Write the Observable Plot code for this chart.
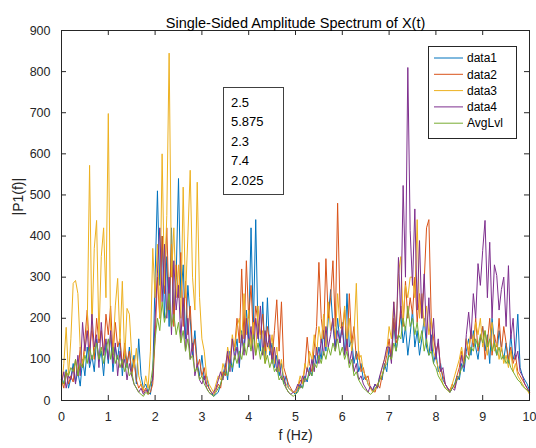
<!DOCTYPE html>
<html>
<head>
<meta charset="utf-8">
<script src="https://cdn.jsdelivr.net/npm/d3@7"></script>
<script src="https://cdn.jsdelivr.net/npm/@observablehq/plot@0.6"></script>
<style>
  html, body { margin: 0; padding: 0; background: #ffffff; }
  #chart { width: 536px; height: 448px; }
</style>
</head>
<body>
<div id="chart"></div>
<script>
// ---- data (0.05 Hz steps) ----
const titleText = "Single-Sided Amplitude Spectrum of X(t)";
const xLabel = "f (Hz)";
const yLabel = "|P1(f)|";
const xTicks = [0, 1, 2, 3, 4, 5, 6, 7, 8, 9, 10];
const yTicks = [0, 100, 200, 300, 400, 500, 600, 700, 800, 900];
const seriesNames = ["data1", "data2", "data3", "data4", "AvgLvl"];
const seriesColors = ["#0072BD", "#D95319", "#EDB120", "#7E2F8E", "#77AC30"];
const annotationLines = ["2.5", "5.875", "2.3", "7.4", "2.025"];
const freqStep = 0.05;

const data1 = [
  60, 40, 75, 30, 55, 90, 45, 70, 35, 100,
  60, 130, 80, 110, 70, 150, 95, 120, 60, 140,
  90, 160, 70, 130, 100, 150, 60, 120, 80, 130,
  70, 110, 40, 150, 60, 30, 40, 20, 15, 60,
  300, 510, 280, 400, 200, 350, 180, 420, 200, 300,
  540, 250, 330, 150, 280, 200, 110, 170, 90, 60,
  110, 50, 60, 30, 20, 10, 15, 20, 40, 60,
  90, 50, 120, 70, 110, 150, 80, 170, 120, 220,
  150, 420, 180, 440, 160, 120, 240, 100, 250, 110,
  140, 80, 110, 60, 90, 40, 60, 30, 25, 20,
  15, 25, 40, 30, 60, 45, 80, 60, 110, 90,
  130, 100, 170, 120, 200, 270, 180, 130, 200, 140,
  190, 110, 260, 130, 150, 90, 120, 70, 90, 50,
  60, 40, 30, 25, 40, 30, 60, 50, 90, 70,
  130, 100, 190, 120, 160, 210, 140, 180, 110, 160,
  220, 130, 170, 110, 150, 200, 130, 110, 160, 90,
  120, 70, 90, 50, 40, 30, 20, 30, 40, 60,
  50, 90, 70, 120, 150, 110, 170, 130, 100, 150,
  180, 120, 160, 90, 200, 140, 110, 170, 130, 100,
  140, 90, 160, 100, 120, 210, 80, 60, 50, 40,
  25
];
const data2 = [
  50, 30, 70, 40, 60, 45, 100, 60, 130, 80,
  150, 220, 120, 180, 100, 200, 140, 170, 110, 210,
  160, 230, 110, 190, 130, 150, 80, 140, 90, 120,
  60, 100, 50, 30, 40, 20, 30, 15, 20, 40,
  150, 300, 200, 400, 260, 420, 220, 380, 180, 330,
  250, 360, 180, 290, 160, 230, 120, 150, 80, 100,
  60, 80, 40, 30, 20, 15, 25, 40, 30, 70,
  60, 110, 90, 150, 130, 200, 140, 320, 150, 340,
  200, 280, 150, 230, 190, 160, 210, 120, 180, 140,
  100, 170, 245, 120, 240, 80, 60, 40, 30, 20,
  20, 30, 50, 40, 80, 154, 90, 70, 130, 180,
  336, 200, 150, 345, 200, 250, 340, 180, 480, 230,
  160, 220, 120, 260, 140, 180, 100, 120, 70, 80,
  50, 60, 30, 25, 20, 40, 30, 60, 80, 110,
  150, 100, 200, 140, 160, 230, 180, 290, 200, 250,
  210, 300, 190, 260, 200, 290, 420, 440, 200, 150,
  120, 140, 80, 60, 40, 30, 25, 40, 30, 60,
  80, 120, 90, 150, 110, 170, 130, 200, 120, 150,
  180, 100, 140, 200, 110, 160, 130, 200, 120, 180,
  140, 100, 130, 90, 110, 70, 60, 50, 40, 30,
  20
];
const data3 = [
  30, 90, 178, 60, 150, 285, 292, 260, 130, 90,
  120, 180, 572, 170, 370, 438, 150, 350, 420, 250,
  698, 150, 120, 230, 297, 140, 290, 100, 224, 210,
  110, 80, 127, 60, 40, 25, 60, 30, 120, 370,
  250, 380, 200, 600, 280, 450, 845, 300, 420, 250,
  330, 200, 519, 250, 400, 560, 300, 220, 531, 250,
  150, 120, 60, 40, 30, 20, 40, 60, 50, 90,
  70, 130, 100, 160, 120, 180, 200, 140, 260, 160,
  220, 130, 190, 110, 230, 150, 170, 90, 140, 120,
  160, 90, 130, 70, 100, 50, 40, 30, 25, 20,
  20, 35, 60, 40, 90, 70, 120, 100, 160, 110,
  180, 140, 210, 130, 240, 170, 200, 150, 260, 180,
  170, 230, 140, 200, 120, 160, 285, 100, 110, 70,
  60, 40, 30, 20, 25, 40, 50, 80, 100, 120,
  180, 150, 240, 170, 309, 350, 200, 280, 250, 300,
  300, 250, 440, 200, 260, 180, 230, 160, 200, 120,
  100, 80, 60, 40, 30, 25, 20, 40, 60, 80,
  100, 130, 90, 150, 120, 170, 140, 190, 160, 200,
  130, 170, 110, 150, 190, 120, 140, 100, 130, 90,
  110, 80, 120, 70, 90, 60, 50, 40, 30, 25,
  15
];
const data4 = [
  40, 70, 30, 60, 50, 80, 40, 110, 60, 190,
  120, 170, 90, 210, 130, 160, 80, 190, 110, 150,
  100, 170, 90, 140, 60, 120, 80, 100, 50, 90,
  60, 40, 30, 20, 30, 15, 25, 20, 40, 50,
  200, 310, 420, 240, 380, 200, 300, 160, 340, 220,
  280, 150, 250, 120, 200, 100, 140, 60, 90, 50,
  40, 60, 30, 20, 15, 20, 30, 50, 70, 50,
  80, 120, 70, 150, 100, 130, 90, 160, 110, 200,
  130, 180, 100, 200, 150, 230, 110, 170, 130, 160,
  90, 130, 70, 100, 50, 60, 30, 20, 15, 20,
  25, 40, 30, 60, 45, 80, 60, 100, 70, 130,
  90, 150, 110, 180, 130, 160, 200, 120, 170, 140,
  180, 110, 150, 90, 120, 70, 90, 50, 60, 40,
  30, 20, 35, 25, 40, 30, 60, 80, 100, 130,
  130, 90, 240, 150, 348, 200, 523, 300, 810, 414,
  280, 466, 220, 389, 200, 308, 150, 250, 120, 200,
  100, 150, 70, 80, 40, 30, 20, 30, 25, 50,
  60, 110, 80, 160, 215, 150, 260, 200, 333, 280,
  365, 438, 250, 385, 200, 330, 304, 220, 270, 300,
  180, 328, 150, 200, 100, 120, 70, 60, 40, 30,
  20
];
const avgLvl = [
  50, 40, 70, 60, 80, 70, 100, 60, 90, 80,
  110, 90, 130, 100, 120, 140, 100, 130, 90, 120,
  150, 100, 130, 90, 110, 80, 100, 70, 90, 60,
  70, 40, 30, 20, 15, 10, 20, 15, 40, 80,
  150, 200, 170, 240, 190, 220, 260, 180, 210, 160,
  190, 140, 170, 120, 150, 100, 110, 70, 80, 50,
  60, 40, 30, 20, 15, 10, 20, 30, 40, 60,
  70, 60, 90, 80, 110, 90, 120, 100, 140, 110,
  150, 120, 160, 110, 140, 100, 130, 90, 110, 80,
  100, 70, 80, 50, 60, 40, 30, 20, 15, 10,
  15, 20, 35, 30, 55, 50, 70, 60, 90, 80,
  110, 90, 120, 100, 130, 110, 140, 120, 150, 110,
  130, 100, 120, 80, 100, 60, 70, 50, 40, 30,
  25, 20, 15, 20, 30, 35, 50, 60, 80, 90,
  110, 100, 140, 120, 160, 150, 200, 170, 230, 180,
  200, 160, 190, 140, 170, 120, 150, 110, 120, 90,
  80, 60, 50, 40, 30, 25, 20, 30, 40, 50,
  60, 80, 90, 110, 100, 130, 120, 150, 130, 160,
  140, 170, 130, 150, 120, 140, 110, 130, 100, 110,
  90, 100, 80, 70, 60, 50, 45, 35, 30, 25,
  20
];

// ---- build table ----
const seriesValues = [data1, data2, data3, data4, avgLvl];
const rows = seriesNames.flatMap((name, k) =>
  seriesValues[k].map((v, i) => ({ f: +(i * freqStep).toFixed(3), p: v, s: name }))
);

const axisColor = "#262626";
const font = "'Liberation Sans', Arial, Helvetica, sans-serif";
const W = 536, H = 448, mL = 61, mR = 7, mT = 30, mB = 48;
const plotW = W - mL - mR, plotH = H - mT - mB, tickLen = 5;

const chart = Plot.plot({
  width: W,
  height: H,
  marginLeft: mL,
  marginRight: mR,
  marginTop: mT,
  marginBottom: mB,
  style: { fontFamily: font, fontSize: "12px", color: axisColor, background: "#ffffff", overflow: "visible" },
  x: { domain: [0, 10] },
  y: { domain: [0, 900] },
  color: { domain: seriesNames, range: seriesColors },
  marks: [
    Plot.line(rows, { x: "f", y: "p", z: "s", stroke: "s", strokeWidth: 1 }),
    Plot.frame({ stroke: axisColor, strokeWidth: 1 }),
    // inward tick marks on all four sides
    Plot.tickX(xTicks, { x: d => d, stroke: axisColor, insetTop: plotH - tickLen }),
    Plot.tickX(xTicks, { x: d => d, stroke: axisColor, insetBottom: plotH - tickLen }),
    Plot.tickY(yTicks, { y: d => d, stroke: axisColor, insetRight: plotW - tickLen }),
    Plot.tickY(yTicks, { y: d => d, stroke: axisColor, insetLeft: plotW - tickLen }),
    Plot.axisX({ anchor: "bottom", ticks: xTicks, tickSize: 0, tickPadding: 12, label: null, fontSize: 12.5 }),
    Plot.axisY({ anchor: "left", ticks: yTicks, tickSize: 0, tickPadding: 11, label: null, fontSize: 12.5 }),
    Plot.text([titleText], { frameAnchor: "top", dy: -13, fontSize: 14.5, fill: "#000" }),
    Plot.text([xLabel], { frameAnchor: "bottom", dy: 39, fontSize: 14, fill: axisColor }),
    Plot.text([yLabel], { frameAnchor: "left", dx: -43, rotate: -90, fontSize: 14, fill: axisColor })
  ]
});
document.getElementById("chart").appendChild(chart);

// ---- legend and annotation box drawn into the same SVG ----
const svg = d3.select(chart);
const leg = svg.append("g").attr("font-family", font).attr("font-size", 12).attr("text-anchor", "start");
leg.append("rect").attr("x", 428.5).attr("y", 46.5).attr("width", 88).attr("height", 92)
  .attr("fill", "#fff").attr("stroke", axisColor);
seriesNames.forEach((name, i) => {
  const y = 58 + i * 16.3;
  leg.append("line").attr("x1", 434).attr("x2", 463).attr("y1", y).attr("y2", y)
    .attr("stroke", seriesColors[i]).attr("stroke-width", 1);
  leg.append("text").attr("x", 467).attr("y", y).attr("dy", "0.35em").attr("fill", "#000").text(name);
});

const ann = svg.append("g").attr("font-family", font).attr("font-size", 13).attr("text-anchor", "start");
ann.append("rect").attr("x", 223.5).attr("y", 87.5).attr("width", 60).attr("height", 107)
  .attr("fill", "#fff").attr("stroke", "#404040");
annotationLines.forEach((t, i) => {
  ann.append("text").attr("x", 231).attr("y", 102 + i * 19.5).attr("dy", "0.35em").attr("fill", "#000").text(t);
});
</script>
</body>
</html>
